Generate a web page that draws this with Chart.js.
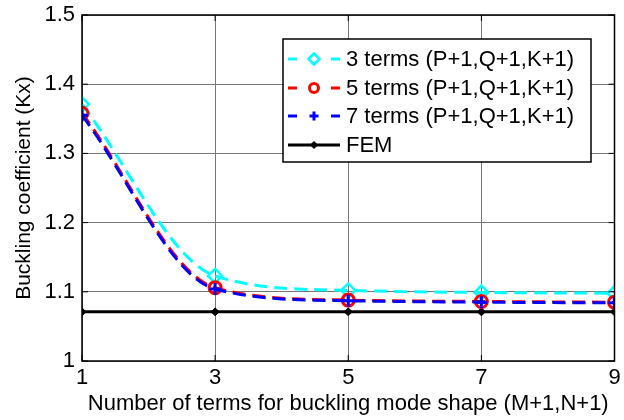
<!DOCTYPE html>
<html>
<head>
<meta charset="utf-8">
<script src="https://cdn.jsdelivr.net/npm/chart.js@4/dist/chart.umd.min.js"></script>
<style>
html,body{margin:0;padding:0;background:#fff;}
#wrap{width:624px;height:420px;position:relative;}
</style>
</head>
<body>
<div id="wrap"><canvas id="c" width="624" height="420"></canvas></div>
<script>
// ---- data ----
const xTerms = [1, 3, 5, 7, 9];
const terms3 = [1.371, 1.123, 1.102, 1.099, 1.098];
const terms5 = [1.358, 1.106, 1.088, 1.086, 1.085];
const terms7 = [1.355, 1.104, 1.087, 1.085, 1.084];
const femVals = [1.071, 1.071, 1.071, 1.071, 1.071];
const seriesLabels = ['3 terms (P+1,Q+1,K+1)', '5 terms (P+1,Q+1,K+1)', '7 terms (P+1,Q+1,K+1)', 'FEM'];
const xTickValues = [1, 3, 5, 7, 9];
const yTickLabels = ['1', '1.1', '1.2', '1.3', '1.4', '1.5'];
const xTitle = 'Number of terms for buckling mode shape (M+1,N+1)';
const yTitle = 'Buckling coefficient (Kx)';

const FONT = "'Liberation Sans', Arial, Helvetica, sans-serif";
const pts = arr => arr.map((v, i) => ({x: xTerms[i], y: v}));

const datasets = [
  {label: seriesLabels[0], data: pts(terms3), borderColor: '#00ffff', backgroundColor: '#ffffff',
   borderDash: [13, 7], borderWidth: 3, pointStyle: 'rectRot', pointRadius: 7, pointBorderWidth: 2.5,
   pointBorderColor: '#00ffff', pointBackgroundColor: 'rgba(255,255,255,0)', order: 2,
   cubicInterpolationMode: 'monotone', legendR: 5.5},
  {label: seriesLabels[1], data: pts(terms5), borderColor: '#ff0000', backgroundColor: '#ffffff',
   borderDash: [13, 7], borderWidth: 3, pointStyle: 'circle', pointRadius: 6, pointBorderWidth: 3,
   pointBorderColor: '#ff0000', pointBackgroundColor: 'rgba(255,255,255,0)', order: 1,
   cubicInterpolationMode: 'monotone', legendR: 4.5},
  {label: seriesLabels[2], data: pts(terms7), borderColor: '#0000ff', backgroundColor: '#0000ff',
   borderDash: [13, 7], borderWidth: 3, pointStyle: 'cross', pointRadius: 6, pointBorderWidth: 3,
   pointBorderColor: '#0000ff', pointBackgroundColor: '#0000ff', order: 0,
   cubicInterpolationMode: 'monotone', legendR: 4.5},
  {label: seriesLabels[3], data: pts(femVals), borderColor: '#000000', backgroundColor: '#000000',
   borderWidth: 3, pointStyle: 'rectRot', pointRadius: 4, pointBorderWidth: 1,
   pointBorderColor: '#000000', pointBackgroundColor: '#000000', order: 3, legendR: 3.5}
];

// frame, inward ticks, legend
const framePlugin = {
  id: 'frame',
  afterDatasetsDraw(chart) {
    const {ctx, chartArea: a, scales} = chart;
    ctx.save();
    ctx.strokeStyle = '#000';
    ctx.lineWidth = 1.5;
    ctx.strokeRect(a.left, a.top, a.right - a.left, a.bottom - a.top);
    ctx.lineWidth = 1;
    const L = 6;
    scales.x.ticks.forEach(t => {
      const px = scales.x.getPixelForValue(t.value);
      ctx.beginPath();
      ctx.moveTo(px, a.bottom); ctx.lineTo(px, a.bottom - L);
      ctx.moveTo(px, a.top); ctx.lineTo(px, a.top + L);
      ctx.stroke();
    });
    scales.y.ticks.forEach(t => {
      const py = scales.y.getPixelForValue(t.value);
      ctx.beginPath();
      ctx.moveTo(a.left, py); ctx.lineTo(a.left + L, py);
      ctx.moveTo(a.right, py); ctx.lineTo(a.right - L, py);
      ctx.stroke();
    });
    ctx.restore();
  },
  afterDraw(chart) {
    const {ctx} = chart;
    const bx = 283, by = 39, bw = 308, bh = 123;
    ctx.save();
    ctx.fillStyle = '#fff';
    ctx.fillRect(bx, by, bw, bh);
    ctx.strokeStyle = '#000';
    ctx.lineWidth = 1.5;
    ctx.strokeRect(bx, by, bw, bh);
    ctx.font = "22px " + FONT;
    ctx.textBaseline = 'middle';
    ctx.textAlign = 'left';
    const rowY = [59, 88, 116, 145];
    chart.data.datasets.forEach((ds, i) => {
      const y = rowY[i];
      const x0 = 288, x1 = 340, xm = (x0 + x1) / 2;
      ctx.strokeStyle = ds.borderColor;
      ctx.lineWidth = 3;
      ctx.beginPath();
      if (ds.borderDash) {
        ctx.moveTo(x0, y); ctx.lineTo(x0 + 9, y);
        ctx.moveTo(x1 - 9, y); ctx.lineTo(x1, y);
      } else {
        ctx.moveTo(x0, y); ctx.lineTo(x1, y);
      }
      ctx.stroke();
      ctx.fillStyle = ds.pointBackgroundColor;
      ctx.strokeStyle = ds.pointBorderColor;
      ctx.lineWidth = ds.pointBorderWidth;
      Chart.helpers.drawPoint(ctx, {
        pointStyle: ds.pointStyle, radius: ds.legendR, rotation: 0, borderWidth: ds.pointBorderWidth
      }, xm, y);
      ctx.fillStyle = '#000';
      ctx.fillText(ds.label, 346, y + 1);
    });
    ctx.restore();
  }
};

new Chart(document.getElementById('c'), {
  type: 'line',
  data: {datasets},
  options: {
    responsive: false,
    animation: false,
    devicePixelRatio: 1,
    layout: {padding: {left: 8, right: 6, top: 15, bottom: 0}},
    plugins: {legend: {display: false}, tooltip: {enabled: false}},
    scales: {
      x: {
        type: 'linear', min: 1, max: 9,
        afterBuildTicks: s => { s.ticks = xTickValues.map(v => ({value: v})); },
        afterFit: s => { s.height = 59; s.paddingLeft = 0; s.paddingRight = 0; },
        ticks: {color: '#000', font: {family: FONT, size: 22}, padding: 4, maxRotation: 0, autoSkip: false},
        grid: {color: '#777', borderDash: [1, 3], drawTicks: false, lineWidth: 1},
        border: {display: false},
        title: {display: true, text: xTitle, color: '#000', font: {family: FONT, size: 22}, padding: {top: 0, bottom: 3}}
      },
      y: {
        type: 'linear', min: 1, max: 1.5,
        afterBuildTicks: s => { s.ticks = yTickLabels.map(v => ({value: parseFloat(v)})); },
        afterFit: s => { s.width = 74; s.paddingTop = 0; s.paddingBottom = 0; },
        ticks: {color: '#000', font: {family: FONT, size: 22}, padding: 7,
                callback: (v, i) => yTickLabels[i]},
        grid: {color: '#777', borderDash: [1, 3], drawTicks: false, lineWidth: 1},
        border: {display: false},
        title: {display: true, text: yTitle, color: '#000', font: {family: FONT, size: 21}, padding: {top: 4, bottom: 0}}
      }
    }
  },
  plugins: [framePlugin]
});
</script>
</body>
</html>
